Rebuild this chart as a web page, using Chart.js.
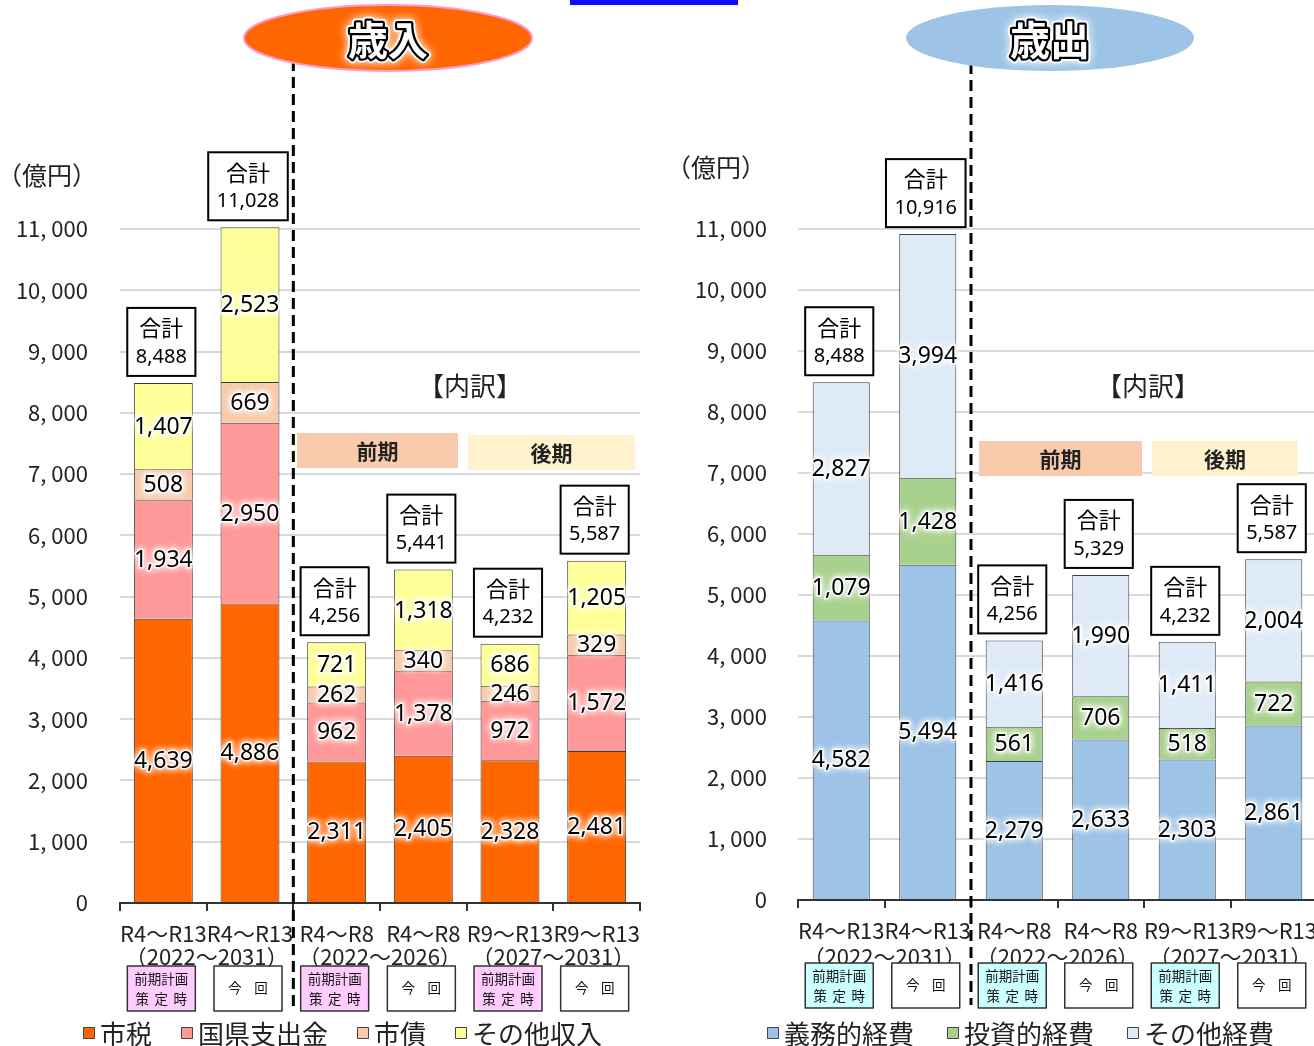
<!DOCTYPE html>
<html><head><meta charset="utf-8">
<script src="https://cdn.jsdelivr.net/npm/chart.js@4.4.0/dist/chart.umd.min.js"></script>
<style>
html,body{margin:0;padding:0;background:#fff;overflow:hidden;width:1314px;height:1046px;position:relative;}
#c1{position:absolute;left:0;top:0;}
#c2{position:absolute;left:657px;top:0;}
#topbar{position:absolute;left:570px;top:0;width:168px;height:5px;background:#0a0aff;z-index:5;}
</style></head><body>
<canvas id="c1" width="657" height="1046"></canvas>
<canvas id="c2" width="672" height="1046"></canvas>
<div id="topbar"></div>
<script>
// ---- data ----
const categories = ['R4～R13','R4～R13','R4～R8','R4～R8','R9～R13','R9～R13'];
const periodLabels = ['（2022～2031）','（2022～2026）','（2027～2031）'];
const boxKinds = ['plan','now','plan','now','plan','now'];
const yTickLabels = ['0','1, 000','2, 000','3, 000','4, 000','5, 000','6, 000','7, 000','8, 000','9, 000','10, 000','11, 000'];

const revNames = ['市税','国県支出金','市債','その他収入'];
const revCityTax = [4639,4886,2311,2405,2328,2481];
const revGrant   = [1934,2950,962,1378,972,1572];
const revBond    = [508,669,262,340,246,329];
const revOther   = [1407,2523,721,1318,686,1205];

const expNames = ['義務的経費','投資的経費','その他経費'];
const expMandatory = [4582,5494,2279,2633,2303,2861];
const expInvest    = [1079,1428,561,706,518,722];
const expOther     = [2827,3994,1416,1990,1411,2004];

const JP = '"Noto Sans CJK JP", "Noto Sans", sans-serif';
const NUM = '"Noto Sans", "Open Sans", sans-serif';

function fmt(v){ return v.toLocaleString('en-US'); }

function glowText(ctx, t, x, y, font, color){
  ctx.save();
  ctx.font = font; ctx.textAlign='center'; ctx.textBaseline='middle';
  ctx.shadowColor = '#fff'; ctx.shadowBlur = 7;
  ctx.fillStyle = '#fff'; ctx.strokeStyle='rgba(255,255,255,0.9)'; ctx.lineWidth = 3;
  ctx.strokeText(t,x,y); ctx.fillText(t,x,y); ctx.fillText(t,x,y);
  ctx.shadowBlur = 0; ctx.fillStyle = color || '#000'; ctx.fillText(t,x,y);
  ctx.restore();
}

function makePlugin(cfg){
  return {
    id:'annot_'+cfg.id,
    beforeDraw(chart){
      const ctx = chart.ctx;
      ctx.save(); ctx.fillStyle='#fff'; ctx.fillRect(0,0,chart.width,chart.height); ctx.restore();
    },
    afterDatasetsDraw(chart){
      const ctx = chart.ctx, xs = chart.scales.x, ys = chart.scales.y;
      // segment labels
      chart.data.datasets.forEach((ds,i)=>{
        const meta = chart.getDatasetMeta(i);
        meta.data.forEach((bar,j)=>{
          glowText(ctx, fmt(ds.data[j]), bar.x, (bar.y+bar.base)/2 + 1, '23px '+NUM, '#000');
        });
      });
      // total boxes
      chart.data.labels.forEach((lab,j)=>{
        let total = 0;
        chart.data.datasets.forEach(ds=>{ total += ds.data[j]; });
        const top = ys.getPixelForValue(total);
        const cx = xs.getPixelForValue(j) - 2;
        const h = 68, bottom = top - 7, bt = bottom - h;
        ctx.save();
        ctx.font = '20px '+NUM;
        const w = Math.max(ctx.measureText(fmt(total)).width, 44) + 17;
        ctx.fillStyle = '#fff'; ctx.fillRect(cx-w/2, bt, w, h);
        ctx.strokeStyle = '#000'; ctx.lineWidth = 2; ctx.strokeRect(cx-w/2, bt, w, h);
        ctx.fillStyle = '#000'; ctx.textAlign='center'; ctx.textBaseline='middle';
        ctx.font = '22px '+JP; ctx.fillText('合計', cx, bt+20);
        ctx.font = '20px '+NUM; ctx.fillText(fmt(total), cx, bt+49);
        ctx.restore();
      });
    },
    afterDraw(chart){
      const ctx = chart.ctx, xs = chart.scales.x;
      const cw = xs.getPixelForValue(1) - xs.getPixelForValue(0);
      const bnd = k => xs.getPixelForValue(k) - cw/2;
      ctx.save();
      // dashed divider
      ctx.strokeStyle = '#000'; ctx.lineWidth = 3; ctx.setLineDash([11,6]);
      ctx.beginPath(); ctx.moveTo(bnd(2), cfg.dashTop); ctx.lineTo(bnd(2), cfg.dashBottom); ctx.stroke();
      ctx.setLineDash([]);
      // title ellipse
      ctx.beginPath(); ctx.ellipse(cfg.titleX, 38, 144, 33, 0, 0, Math.PI*2);
      ctx.fillStyle = cfg.titleFill; ctx.fill();
      if (cfg.titleStroke){ ctx.strokeStyle = cfg.titleStroke; ctx.lineWidth = 2; ctx.stroke(); }
      ctx.font = 'bold 40px '+JP; ctx.textAlign='center'; ctx.textBaseline='middle';
      ctx.shadowColor = '#fff'; ctx.shadowBlur = 10;
      ctx.lineJoin = 'round';
      ctx.strokeStyle = '#fff'; ctx.lineWidth = 8; ctx.strokeText(cfg.title, cfg.titleX, 40);
      ctx.shadowBlur = 0;
      ctx.strokeStyle = '#000'; ctx.lineWidth = 4.5; ctx.strokeText(cfg.title, cfg.titleX, 40);
      ctx.fillStyle = '#fff'; ctx.fillText(cfg.title, cfg.titleX, 40);
      // unit label
      ctx.fillStyle = '#222'; ctx.font = '25px '+JP;
      ctx.fillText('（億円）', cfg.unitX, cfg.unitY);
      // 内訳
      ctx.font = '26px '+JP; ctx.fillText('【内訳】', cfg.naiX, 386);
      // period bands
      cfg.bands.forEach(b=>{
        ctx.fillStyle = b.fill; ctx.fillRect(b.x, b.y, b.w, 35);
        ctx.fillStyle = '#222'; ctx.font = 'bold 21px '+JP;
        ctx.fillText(b.text, b.x + b.w/2, b.y + 18);
      });
      // second line of x labels
      ctx.fillStyle = '#222'; ctx.font = '22px '+JP;
      periodLabels.forEach((t,k)=>{ ctx.fillText(t, bnd(2*k+1), 957); });
      // kind boxes
      boxKinds.forEach((kind,j)=>{
        const cx = xs.getPixelForValue(j) - 2, bw = 68, bh = 45, by = cfg.boxY;
        ctx.fillStyle = kind==='plan' ? cfg.planFill : '#fff';
        ctx.fillRect(cx-bw/2, by, bw, bh);
        ctx.strokeStyle = '#333'; ctx.lineWidth = 1.5; ctx.strokeRect(cx-bw/2, by, bw, bh);
        ctx.fillStyle = '#111'; ctx.font = '13.5px '+JP;
        if (kind==='plan'){
          ctx.fillText('前期計画', cx, by+13);
          ['策','定','時'].forEach((c,q)=>ctx.fillText(c, cx + (q-1)*19, by+33));
        } else {
          ctx.fillText('今', cx-13, by+22); ctx.fillText('回', cx+13, by+22);
        }
      });
      // legend
      let lx = cfg.legendX;
      ctx.textAlign = 'left'; ctx.font = '26px '+JP;
      chart.data.datasets.forEach(ds=>{
        ctx.fillStyle = ds.backgroundColor; ctx.fillRect(lx, 1027, 12, 12);
        ctx.strokeStyle = '#444'; ctx.lineWidth = 1; ctx.strokeRect(lx+0.5, 1027.5, 11, 11);
        ctx.fillStyle = '#222'; ctx.fillText(ds.label, lx+17, 1034);
        lx += 17 + ctx.measureText(ds.label).width + cfg.legendGap;
      });
      ctx.restore();
    }
  };
}

function makeChart(id, cfg){
  return new Chart(document.getElementById(id), {
    type:'bar',
    data:{
      labels: categories,
      datasets: cfg.series.map((s,i)=>({
        label: cfg.names[i], data: s, backgroundColor: cfg.colors[i],
        borderColor: cfg.border, borderWidth: 1, clip: false,
        barPercentage: cfg.barPct, categoryPercentage: 1
      }))
    },
    options:{
      responsive:false, animation:false, devicePixelRatio:1,
      layout:{padding:{top:cfg.top, right:cfg.padRight, left:0, bottom:0}},
      plugins:{legend:{display:false}, tooltip:{enabled:false}},
      scales:{
        x:{
          stacked:true, offset:true,
          grid:{display:true, drawOnChartArea:false, drawTicks:true, tickLength:8, color:'#333', lineWidth:2, offset:true},
          border:{display:true, color:'#333', width:2},
          ticks:{autoSkip:false, maxRotation:0, minRotation:0, padding:9, color:'#222', font:{family:JP, size:22}},
          afterFit(s){ s.height = cfg.xH; }
        },
        y:{
          stacked:true, min:0, max:11000,
          ticks:{stepSize:1000, padding:cfg.yPad, color:'#222', font:{family:JP, size:22},
                 callback:(v)=>yTickLabels[Math.round(v/1000)]},
          grid:{color:'#d9d9d9', lineWidth:2, drawTicks:false},
          border:{display:false},
          afterFit(s){ s.width = cfg.yW; }
        }
      }
    },
    plugins:[makePlugin(cfg)]
  });
}

const revCfg = {
  id:'rev', names: revNames, series:[revCityTax, revGrant, revBond, revOther],
  colors:['#ff6600','#ff9999','#f8cbad','#ffff99'], border:'#3a3a3a', barPct:0.68,
  top:229, padRight:17, xH:143, yW:120, yPad:32,
  dashTop:60, dashBottom:1008,
  title:'歳入', titleX:388, titleFill:'#ff6600', titleStroke:'#ff99cc',
  unitX:47, unitY:175, naiX:470,
  bands:[{x:297,y:433,w:161,fill:'#f8cbad',text:'前期'},{x:468,y:435,w:167,fill:'#fff2cc',text:'後期'}],
  boxY:966, planFill:'#ffccff', legendX:83, legendGap:29
};
const expCfg = {
  id:'exp', names: expNames, series:[expMandatory, expInvest, expOther],
  colors:['#9dc3e6','#a9d18e','#deebf7'], border:'#404040', barPct:0.66,
  top:229, padRight:12, xH:146, yW:141, yPad:31,
  dashTop:63, dashBottom:1005,
  title:'歳出', titleX:393, titleFill:'#9dc3e6', titleStroke:null,
  unitX:59, unitY:167, naiX:491,
  bands:[{x:322,y:441,w:163,fill:'#f8cbad',text:'前期'},{x:495,y:441,w:146,fill:'#fff2cc',text:'後期'}],
  boxY:963, planFill:'#ccffff', legendX:110, legendGap:33
};
makeChart('c1', revCfg);
makeChart('c2', expCfg);
</script>
</body></html>
